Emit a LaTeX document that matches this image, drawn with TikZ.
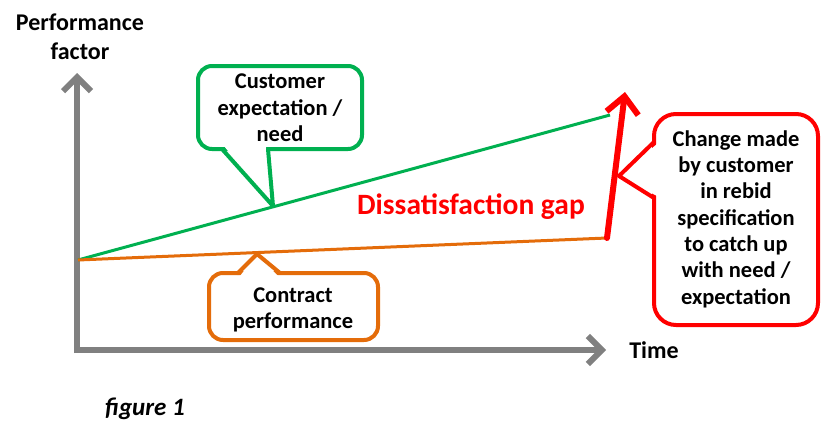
\documentclass[tikz,border=0pt]{standalone}
\usepackage{fontspec}
\setmainfont{Carlito}
\usetikzlibrary{arrows.meta}
\definecolor{cgreen}{RGB}{0,176,80}
\definecolor{corange}{RGB}{228,108,10}
\definecolor{cred}{RGB}{255,0,0}
\definecolor{cgray}{RGB}{128,128,128}
\tikzset{
  lbl/.style={font=\bfseries\fontsize{22.5}{26.3}\selectfont, align=center, text=black},
  axis/.style={cgray, line width=6pt, -{Straight Barb[length=14pt,width=28pt,line width=6pt]}},
  cbox/.style={line width=4pt, fill=white, rounded corners=#1},
  cptr/.style={line width=4pt, line join=round, line cap=round},
}
\begin{document}
\begin{tikzpicture}[x=1pt,y=-1pt]
\useasboundingbox (0,0) rectangle (825,431);
% axes
\coordinate (O) at (77,350);
\coordinate (ytip) at (77,73);
\coordinate (xtip) at (606,350);
\draw[axis] (77,353) -- (ytip);
\draw[axis] (74,350) -- (xtip);
\node[font=\bfseries\fontsize{24}{29}\selectfont, align=center] (ylab) at (80,37) {Performance\\factor};
\node[font=\bfseries\fontsize{24}{29}\selectfont] (xlab) at (654,350) {Time};
\node[font=\bfseries\itshape\fontsize{25}{30}\selectfont] (fig) at (145,409) {figure 1};
% lines
\coordinate (start) at (78,260);
\coordinate (gend) at (610,115);
\coordinate (oend) at (607,238);
\coordinate (rtip) at (625,92);
\draw[cgreen, line width=3pt] (start) -- (gend);
\draw[corange, line width=3pt] (start) -- (oend);
\draw[cred, line width=6pt, line cap=round, -{Straight Barb[length=17pt,width=32pt,line width=6pt]}] (oend) -- (rtip);
\node[font=\bfseries\fontsize{29.5}{34}\selectfont, text=cred] (gap) at (471,207) {Dissatisfaction gap};
% green callout
\coordinate (gpt) at (273,206);
\draw[cgreen, cbox=14pt] (198,66) rectangle (362,149);
\fill[white] (224,146) -- (gpt) -- (266,146) -- cycle;
\draw[cgreen, cptr] (222,149) -- (gpt) -- (268,149);
\node[lbl] (gtext) at (280,108) {Customer\\expectation /\\need};
% orange callout
\coordinate (opt) at (257,254);
\draw[corange, cbox=14pt] (209,273) rectangle (378,340);
\fill[white] (240,276) -- (opt) -- (278,276) -- cycle;
\draw[corange, cptr] (238,273) -- (opt) -- (280,273);
\node[lbl] (otext) at (293,310) {Contract\\performance};
% red callout
\coordinate (rpt) at (619,176);
\draw[cred, cbox=22pt] (654,114) rectangle (818,325);
\fill[white] (657,144) -- (rpt) -- (657,196) -- cycle;
\draw[cred, cptr] (654,142) -- (rpt) -- (654,198);
\node[lbl] (rtext) at (736,219) {Change made\\by customer\\in rebid\\specification\\to catch up\\with need /\\expectation};
\end{tikzpicture}
\end{document}
